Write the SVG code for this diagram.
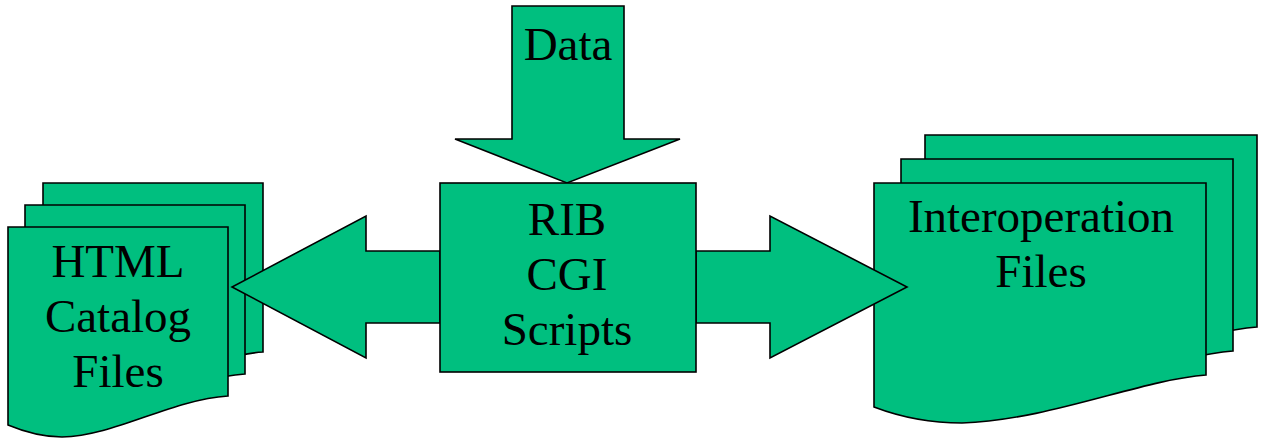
<svg xmlns="http://www.w3.org/2000/svg" width="1262" height="440" viewBox="0 0 1262 440">
<style>
.s{fill:#00BF7F;stroke:#000;stroke-width:1.6;stroke-linejoin:miter}
.t{font-family:"Liberation Serif","Times New Roman",serif;font-size:47px;fill:#000;text-anchor:middle}
</style>
<defs>
<path id="docL" d="M8,227 H228 V396 C170,400 115,436 62,437 C40,437 20,430 8,425 Z"/>
<path id="docR" d="M874,183 H1206 V375 C1140,380 1050,420 962,423 C925,423 895,415 874,407 Z"/>
</defs>
<rect width="1262" height="440" fill="#fff"/>
<g id="html-files">
<use href="#docL" class="s" transform="translate(35,-44)"/>
<use href="#docL" class="s" transform="translate(17,-22)"/>
<use href="#docL" class="s"/>
<text class="t" x="118" y="277">HTML</text>
<text class="t" x="118" y="332">Catalog</text>
<text class="t" x="118" y="387">Files</text>
</g>
<g id="interop-files">
<use href="#docR" class="s" transform="translate(51,-48)"/>
<use href="#docR" class="s" transform="translate(27,-24)"/>
<use href="#docR" class="s"/>
<text class="t" x="1041" y="232">Interoperation</text>
<text class="t" x="1041" y="287">Files</text>
</g>
<g id="connectors">
<polygon class="s" points="512,6 624,6 624,139 680,139 567,183 455,139 512,139"/>
<polygon class="s" points="440,251 366,251 366,216 232,287 366,358 366,323 440,323"/>
<polygon class="s" points="696,251 770,251 770,216 907,287 770,358 770,323 696,323"/>
</g>
<g id="data">
<text class="t" x="568" y="60">Data</text>
</g>
<g id="rib-cgi">
<rect class="s" x="440" y="183" width="256" height="189"/>
<text class="t" x="567" y="235">RIB</text>
<text class="t" x="567" y="290">CGI</text>
<text class="t" x="567" y="345">Scripts</text>
</g>
</svg>
